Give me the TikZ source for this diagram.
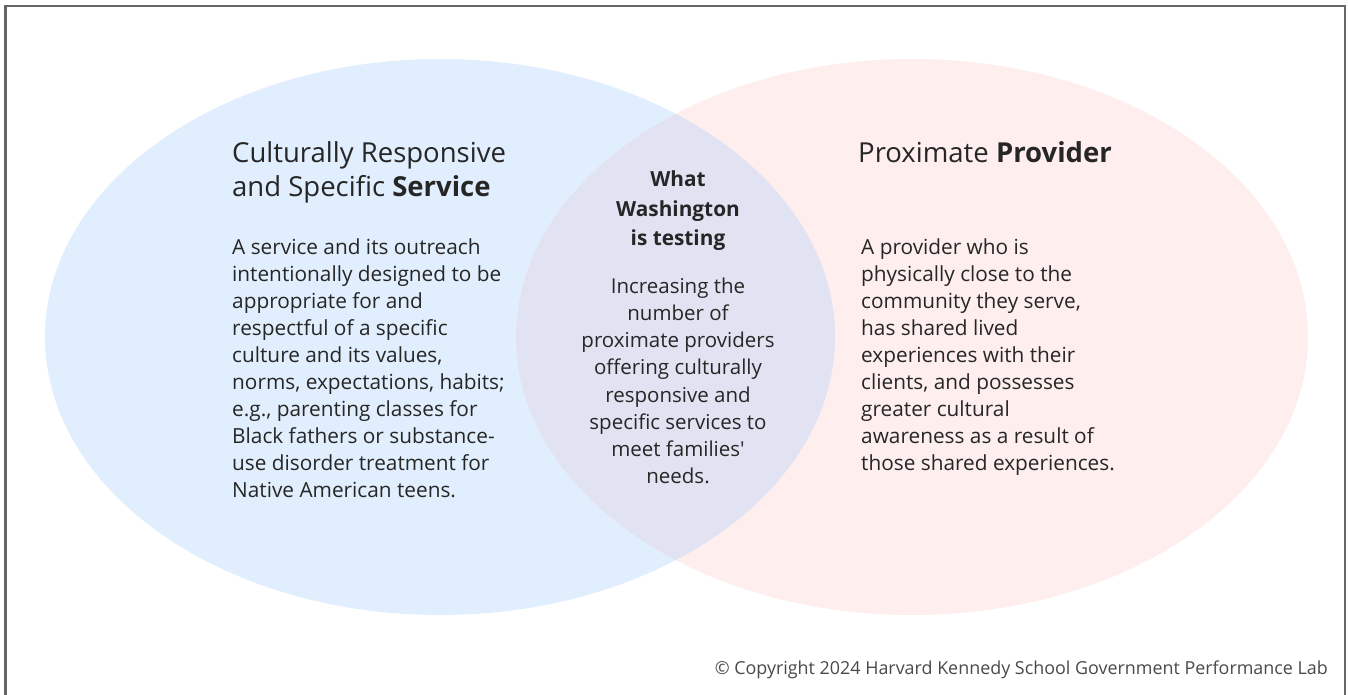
\documentclass[tikz,border=0pt]{standalone}
\usepackage{fontspec}
\setmainfont{Open Sans}
\definecolor{serviceblue}{HTML}{E1EEFD}
\definecolor{providerpink}{HTML}{FEEEEE}
\definecolor{overlapgrey}{HTML}{E1E3F2}
\definecolor{inkdark}{HTML}{262626}
\definecolor{framegrey}{HTML}{666666}
\definecolor{notegrey}{HTML}{4A4A4A}
\begin{document}
\begin{tikzpicture}[x=1pt,y=-1pt,
  titletext/.style={anchor=north west,inner sep=0pt,align=left,text=inkdark,
    font=\fontsize{27.5}{34}\selectfont},
  bodytext/.style={anchor=north west,inner sep=0pt,align=left,text=inkdark,
    font=\fontsize{20.8}{27}\selectfont},
  midhead/.style={anchor=north,inner sep=0pt,align=center,text=inkdark,
    font=\bfseries\fontsize{20.8}{29.5}\selectfont},
  midbody/.style={anchor=north,inner sep=0pt,align=center,text=inkdark,
    font=\fontsize{20.5}{27.2}\selectfont},
  ]
  \useasboundingbox (0,0) rectangle (1348,694);
  \fill[white] (0,0) rectangle (1348,694);

  % the two circles and their shared part
  \fill[serviceblue] (440,337) ellipse [x radius=395pt, y radius=278pt];
  \fill[providerpink] (912,337) ellipse [x radius=396pt, y radius=278pt];
  \begin{scope}
    \clip (440,337) ellipse [x radius=395pt, y radius=278pt];
    \fill[overlapgrey] (912,337) ellipse [x radius=396pt, y radius=278pt];
  \end{scope}

  % outer frame, open at the bottom
  \draw[framegrey,line width=2.6pt] (5.5,700) -- (5.5,6) -- (1345,6) -- (1345,700);

  % left circle
  \node[titletext] (svctitle) at (232,141)
    {Culturally Responsive\\and Specific \textbf{Service}};
  \node[bodytext] (svcbody) at (232,238)
    {A service and its outreach\\intentionally designed to be\\appropriate for and\\respectful of a specific\\culture and its values,\\norms, expectations, habits;\\e.g., parenting classes for\\Black fathers or substance-\\use disorder treatment for\\Native American teens.};

  % right circle
  \node[titletext] (provtitle) at (858,141) {Proximate \textbf{Provider}};
  \node[bodytext] (provbody) at (861,238)
    {A provider who is\\physically close to the\\community they serve,\\has shared lived\\experiences with their\\clients, and possesses\\greater cultural\\awareness as a result of\\those shared experiences.};

  % overlap
  \node[midhead] (midtitle) at (678,170.5) {What\\Washington\\is testing};
  \node[midbody] (midbody) at (678,277.5)
    {Increasing the\\number of\\proximate providers\\offering culturally\\responsive and\\specific services to\\meet families\textquotesingle\\needs.};

  % credit line
  \node[anchor=east,inner sep=0pt,text=notegrey,font=\fontsize{17.9}{20}\selectfont]
    (credit) at (1328,670)
    {\textcopyright\ Copyright 2024 Harvard Kennedy School Government Performance Lab};
\end{tikzpicture}
\end{document}
